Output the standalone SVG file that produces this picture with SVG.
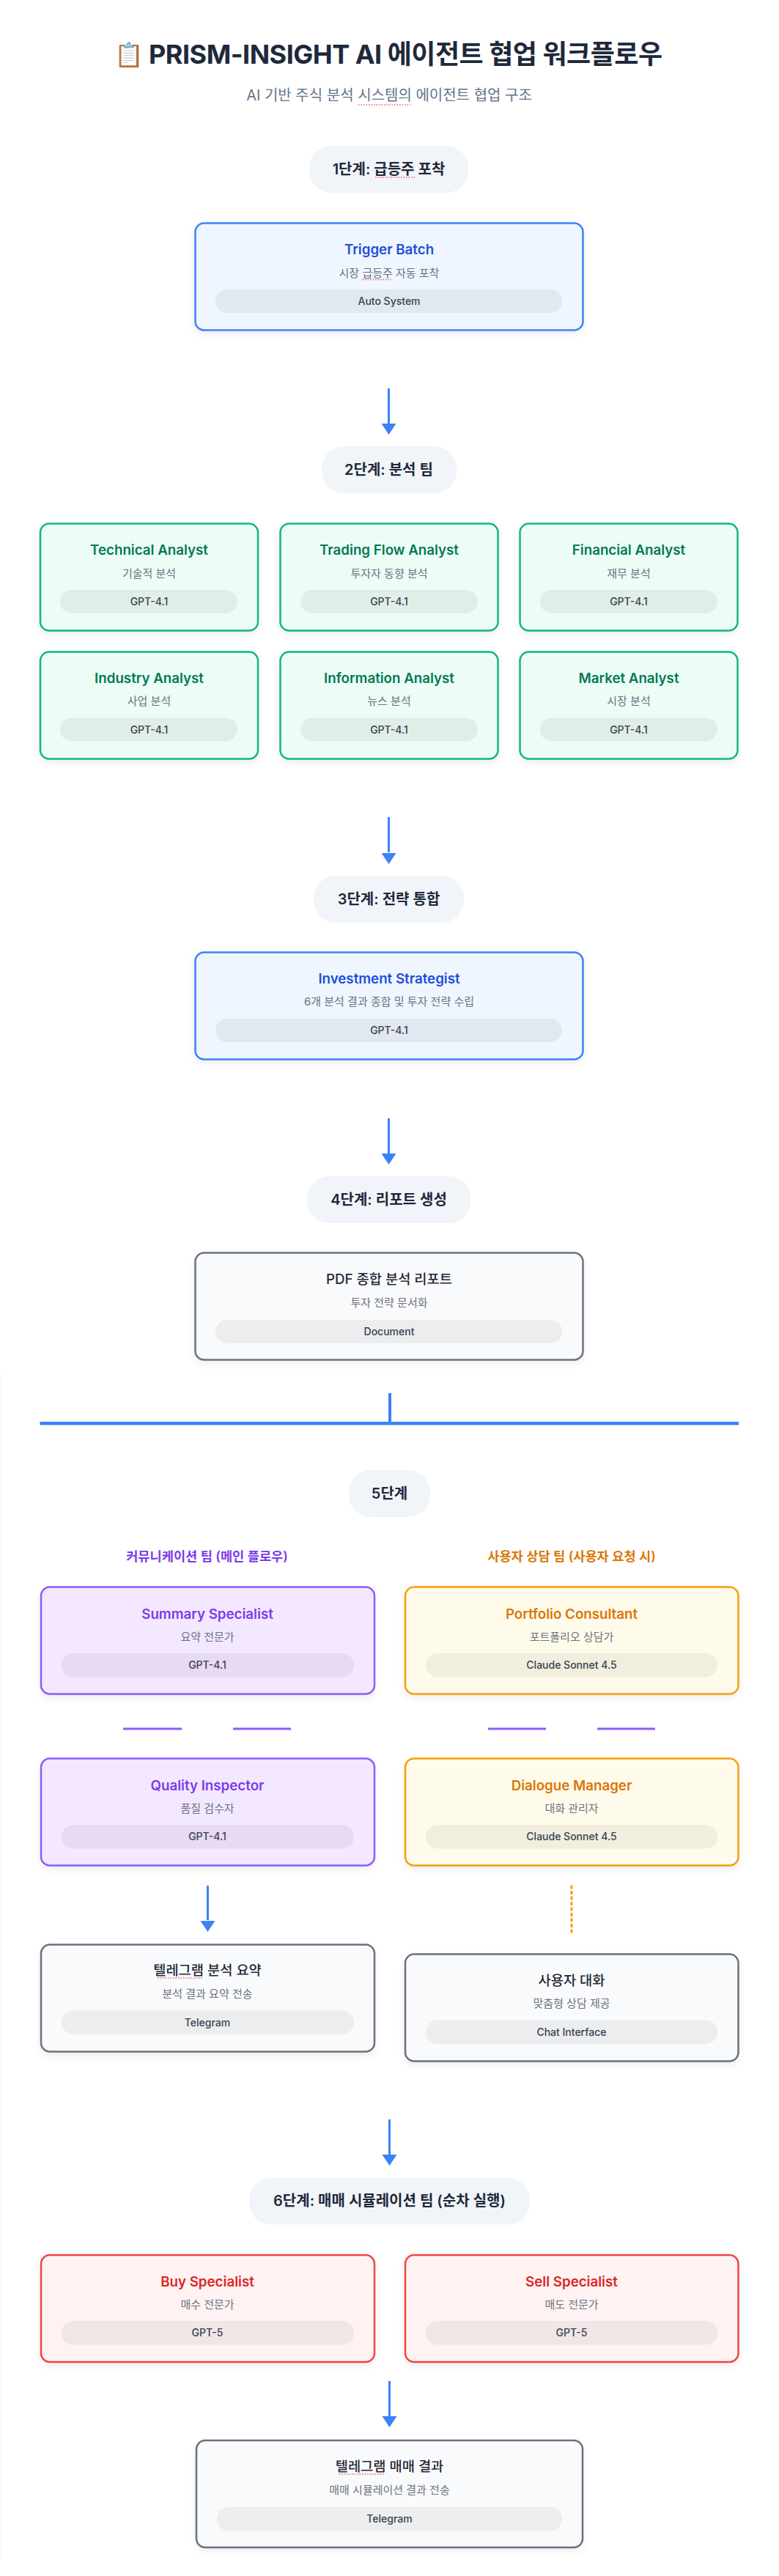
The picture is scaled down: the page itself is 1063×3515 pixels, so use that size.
<svg xmlns="http://www.w3.org/2000/svg" width="1063" height="3515" viewBox="0 0 1063 3515">
<defs>
<filter id="sh" x="-10%" y="-20%" width="120%" height="150%"><feDropShadow dx="0" dy="4" stdDeviation="5" flood-color="#000" flood-opacity="0.07"/></filter>
</defs>
<style>
text{font-family:Inter,"Noto Sans CJK KR",sans-serif;text-anchor:middle}
.h1{font-size:36px;font-weight:700;fill:#1e293b;letter-spacing:-.5px;text-anchor:start}
.sub{font-size:20px;fill:#64748b}
.stage{fill:#f1f5f9}
.st{font-size:20px;font-weight:600;fill:#1e293b}
.t{font-size:18.72px;font-weight:600}
.d{font-size:15px;fill:#6b7280}
.m{font-size:14px;font-weight:500;fill:#374151}
.col{font-size:17.6px;font-weight:600}
.c{stroke-width:2.5;filter:url(#sh)}
.blue rect.c{fill:#eff6ff;stroke:#3b82f6}.blue .t{fill:#1d4ed8}.blue .p{fill:#e2e8f0}
.green rect.c{fill:#ecfdf5;stroke:#10b981}.green .t{fill:#047857}.green .p{fill:#e1eee8}
.purple rect.c{fill:#f3e8ff;stroke:#8b5cf6}.purple .t{fill:#7c3aed}.purple .p{fill:#e7daf2}
.amber rect.c{fill:#fffbeb;stroke:#f59e0b}.amber .t{fill:#d97706}.amber .p{fill:#f1eede}
.red rect.c{fill:#fef2f2;stroke:#ef4444}.red .t{fill:#dc2626}.red .p{fill:#f1e6e6}
.gray rect.c{fill:#f9fafb;stroke:#6b7280}.gray .t{fill:#1f2937;font-weight:500}.gray .p{fill:#ecedef}
.ln{stroke:#3b82f6;stroke-width:3;fill:none}
.tip{fill:#3b82f6}
.sq{stroke:#ef4444;stroke-width:1.5;stroke-dasharray:1.5 2;fill:none;opacity:.85}
</style>
<rect width="1063" height="3515" fill="#fff"/>
<rect x="1" y="1875" width="1" height="1616" fill="#f2f2f2"/>
<g id="header">
<text x="156" y="86" class="h1"><tspan font-size="32" letter-spacing="0">📋</tspan><tspan x="203" y="87">PRISM-INSIGHT AI 에이전트 협업 워크플로우</tspan></text>
<text x="531" y="137" class="sub">AI 기반 주식 분석 시스템의 에이전트 협업 구조</text>
</g>
<g id="connectors">
<path class="ln" d="M530.5 530V578M530.5 1115V1163M530.5 1526V1574M283.5 2573V2620M531.5 2892V2940M531.5 3249V3297"/>
<path class="tip" d="M520.5 578H540.5L530.5 593ZM520.5 1164H540.5L530.5 1179ZM520.5 1574H540.5L530.5 1589ZM273.5 2621H293.5L283.5 2636ZM521.500 2940H541.500L531.500 2955ZM521.500 3297H541.500L531.500 3312Z"/>
<rect x="530" y="1901" width="4" height="41" fill="#3b82f6"/>
<rect x="54.5" y="1940" width="953.5" height="4.5" fill="#3b82f6"/>
<path d="M168 2359H248M318 2359H397M666 2359H745M815 2359H894" stroke="#8b5cf6" stroke-width="3" fill="none"/>
<path d="M780 2572.5V2639" stroke="#f59e0b" stroke-width="3" stroke-dasharray="5 2.5" fill="none"/>
</g>
<g id="stage1"><rect class="stage" x="422" y="199" width="217" height="64" rx="30"/><text x="530.5" y="238" class="st">1단계: 급등주 포착</text></g>
<g id="stage2"><rect class="stage" x="439" y="609" width="184" height="64" rx="30"/><text x="530.5" y="648" class="st">2단계: 분석 팀</text></g>
<g id="stage3"><rect class="stage" x="428" y="1195" width="205" height="64" rx="30"/><text x="530.5" y="1234" class="st">3단계: 전략 통합</text></g>
<g id="stage4"><rect class="stage" x="419" y="1605" width="223" height="64" rx="30"/><text x="530.5" y="1644" class="st">4단계: 리포트 생성</text></g>
<g id="stage5"><rect class="stage" x="476" y="2006" width="111" height="64" rx="30"/><text x="531.5" y="2045" class="st">5단계</text></g>
<g id="stage6"><rect class="stage" x="340" y="2971.5" width="383" height="64" rx="30"/><text x="531.5" y="3010" class="st">6단계: 매매 시뮬레이션 팀 (순차 실행)</text></g>
<g id="n1" class="blue"><rect class="c" x="266.5" y="304.5" width="529" height="146" rx="12"/><text x="531" y="347" class="t">Trigger Batch</text><text x="531" y="378" class="d">시장 급등주 자동 포착</text><rect class="p" x="294" y="395" width="473" height="32" rx="16"/><text x="531" y="416" class="m">Auto System</text></g>
<g id="n2" class="green"><rect class="c" x="55" y="714.5" width="297" height="146" rx="12"/><text x="203.5" y="757" class="t">Technical Analyst</text><text x="203.5" y="788" class="d">기술적 분석</text><rect class="p" x="82" y="805" width="242" height="32" rx="16"/><text x="203.5" y="826" class="m">GPT-4.1</text></g>
<g id="n3" class="green"><rect class="c" x="382.5" y="714.5" width="297" height="146" rx="12"/><text x="531" y="757" class="t">Trading Flow Analyst</text><text x="531" y="788" class="d">투자자 동향 분석</text><rect class="p" x="410" y="805" width="242" height="32" rx="16"/><text x="531" y="826" class="m">GPT-4.1</text></g>
<g id="n4" class="green"><rect class="c" x="709.5" y="714.5" width="297" height="146" rx="12"/><text x="858" y="757" class="t">Financial Analyst</text><text x="858" y="788" class="d">재무 분석</text><rect class="p" x="737" y="805" width="242" height="32" rx="16"/><text x="858" y="826" class="m">GPT-4.1</text></g>
<g id="n5" class="green"><rect class="c" x="55" y="889.5" width="297" height="146" rx="12"/><text x="203.5" y="932" class="t">Industry Analyst</text><text x="203.5" y="962" class="d">사업 분석</text><rect class="p" x="82" y="979.5" width="242" height="32" rx="16"/><text x="203.5" y="1001" class="m">GPT-4.1</text></g>
<g id="n6" class="green"><rect class="c" x="382.5" y="889.5" width="297" height="146" rx="12"/><text x="531" y="932" class="t">Information Analyst</text><text x="531" y="962" class="d">뉴스 분석</text><rect class="p" x="410" y="979.5" width="242" height="32" rx="16"/><text x="531" y="1001" class="m">GPT-4.1</text></g>
<g id="n7" class="green"><rect class="c" x="709.5" y="889.5" width="297" height="146" rx="12"/><text x="858" y="932" class="t">Market Analyst</text><text x="858" y="962" class="d">시장 분석</text><rect class="p" x="737" y="979.5" width="242" height="32" rx="16"/><text x="858" y="1001" class="m">GPT-4.1</text></g>
<g id="n8" class="blue"><rect class="c" x="266.5" y="1299.5" width="529" height="146" rx="12"/><text x="531" y="1342" class="t">Investment Strategist</text><text x="531" y="1372" class="d">6개 분석 결과 종합 및 투자 전략 수립</text><rect class="p" x="294" y="1390" width="473" height="32" rx="16"/><text x="531" y="1411" class="m">GPT-4.1</text></g>
<g id="n9" class="gray"><rect class="c" x="266.5" y="1709.5" width="529" height="146" rx="12"/><text x="531" y="1752" class="t">PDF 종합 분석 리포트</text><text x="531" y="1783" class="d">투자 전략 문서화</text><rect class="p" x="294" y="1801" width="473" height="32" rx="16"/><text x="531" y="1822" class="m">Document</text></g>
<g id="h-left"><text x="282.5" y="2130" class="col" fill="#7c3aed">커뮤니케이션 팀 (메인 플로우)</text></g>
<g id="h-right"><text x="780" y="2130" class="col" fill="#d97706">사용자 상담 팀 (사용자 요청 시)</text></g>
<g id="n10" class="purple"><rect class="c" x="56" y="2165.5" width="455" height="146" rx="12"/><text x="283" y="2209" class="t">Summary Specialist</text><text x="283" y="2239" class="d">요약 전문가</text><rect class="p" x="84" y="2256" width="399" height="32.5" rx="16"/><text x="283" y="2277" class="m">GPT-4.1</text></g>
<g id="n11" class="amber"><rect class="c" x="553" y="2165.5" width="454.5" height="146" rx="12"/><text x="780" y="2209" class="t">Portfolio Consultant</text><text x="780" y="2239" class="d">포트폴리오 상담가</text><rect class="p" x="581" y="2256" width="398" height="32.5" rx="16"/><text x="780" y="2277" class="m">Claude Sonnet 4.5</text></g>
<g id="n12" class="purple"><rect class="c" x="56" y="2399.5" width="455" height="146" rx="12"/><text x="283" y="2442.5" class="t">Quality Inspector</text><text x="283" y="2473" class="d">품질 검수자</text><rect class="p" x="84" y="2490" width="399" height="32.5" rx="16"/><text x="283" y="2511" class="m">GPT-4.1</text></g>
<g id="n13" class="amber"><rect class="c" x="553" y="2399.5" width="454.5" height="146" rx="12"/><text x="780" y="2442.5" class="t">Dialogue Manager</text><text x="780" y="2473" class="d">대화 관리자</text><rect class="p" x="581" y="2490" width="398" height="32.5" rx="16"/><text x="780" y="2511" class="m">Claude Sonnet 4.5</text></g>
<g id="n14" class="gray"><rect class="c" x="56" y="2653.5" width="455" height="146" rx="12"/><text x="283" y="2695" class="t">텔레그램 분석 요약</text><text x="283" y="2726" class="d">분석 결과 요약 전송</text><rect class="p" x="84" y="2743.5" width="399" height="32.5" rx="16"/><text x="283" y="2764.5" class="m">Telegram</text></g>
<g id="n15" class="gray"><rect class="c" x="553" y="2666.5" width="454.5" height="146" rx="12"/><text x="780" y="2708.5" class="t">사용자 대화</text><text x="780" y="2739" class="d">맞춤형 상담 제공</text><rect class="p" x="581" y="2756.5" width="398" height="32.5" rx="16"/><text x="780" y="2777.5" class="m">Chat Interface</text></g>
<g id="n16" class="red"><rect class="c" x="56" y="3077" width="455" height="146" rx="12"/><text x="283" y="3119.5" class="t">Buy Specialist</text><text x="283" y="3150" class="d">매수 전문가</text><rect class="p" x="84" y="3167" width="399" height="32.5" rx="16"/><text x="283" y="3188" class="m">GPT-5</text></g>
<g id="n17" class="red"><rect class="c" x="553" y="3077" width="454.5" height="146" rx="12"/><text x="780" y="3119.5" class="t">Sell Specialist</text><text x="780" y="3150" class="d">매도 전문가</text><rect class="p" x="581" y="3167" width="398" height="32.5" rx="16"/><text x="780" y="3188" class="m">GPT-5</text></g>
<g id="n18" class="gray"><rect class="c" x="268" y="3330" width="527" height="146" rx="12"/><text x="531.5" y="3372" class="t">텔레그램 매매 결과</text><text x="531.5" y="3403" class="d">매매 시뮬레이션 결과 전송</text><rect class="p" x="296" y="3421" width="471" height="32.5" rx="16"/><text x="531.5" y="3442" class="m">Telegram</text></g>
<path class="sq" d="M489 143H560M512 242H566M494.5 381.5H534M215 2699H278M462.500 3376H525.500"/>
</svg>
